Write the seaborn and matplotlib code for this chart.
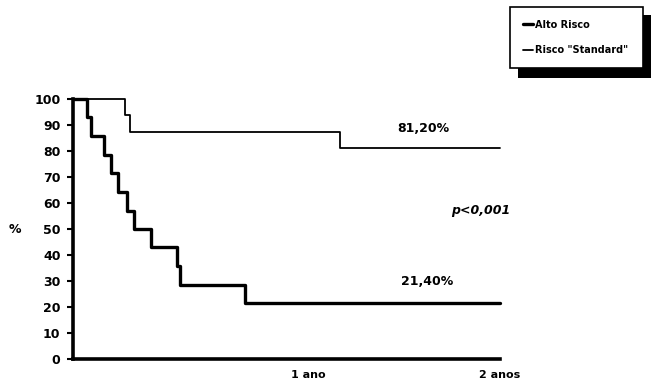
import matplotlib
matplotlib.use("Agg")
import matplotlib.pyplot as plt
from matplotlib.patches import Rectangle
import seaborn as sns
import pandas as pd

# Data (time in months, survival in %)
alto_t = [0, 0.79, 1.01, 1.74, 2.12, 2.53, 3.04, 3.43, 4.37, 5.83, 6.01, 9.67, 24]
alto_s = [100, 92.9, 85.7, 78.6, 71.4, 64.3, 57.1, 50.0, 42.9, 35.7, 28.6, 21.4, 21.4]
std_t = [0, 2.92, 3.20, 15.0, 24]
std_s = [100, 93.75, 87.5, 81.25, 81.25]
series_names = ["Alto Risco", 'Risco "Standard"']
y_ticks = [0, 10, 20, 30, 40, 50, 60, 70, 80, 90, 100]
x_tick_labels = ["1 ano", "2 anos"]
annotations = ["81,20%", "p<0,001", "21,40%"]

sns.set_style("white")
plt.rcParams["font.family"] = ["DejaVu Sans"]
plt.rcParams["text.color"] = "black"
plt.rcParams["xtick.color"] = "black"
plt.rcParams["ytick.color"] = "black"
plt.rcParams["xtick.labelcolor"] = "black"
plt.rcParams["ytick.labelcolor"] = "black"

df_alto = pd.DataFrame({"t": alto_t, "s": alto_s})
df_std = pd.DataFrame({"t": std_t, "s": std_s})

W, H = 651, 382
fig = plt.figure(figsize=(W / 100, H / 100), dpi=100)
ax = fig.add_axes([73 / W, 1 - 359 / H, (500 - 73) / W, (359 - 99) / H])

sns.lineplot(data=df_std, x="t", y="s", ax=ax, drawstyle="steps-post",
             color="black", linewidth=1.3, estimator=None, sort=False,
             label=series_names[1], clip_on=False)
sns.lineplot(data=df_alto, x="t", y="s", ax=ax, drawstyle="steps-post",
             color="black", linewidth=2.4, estimator=None, sort=False,
             label=series_names[0], clip_on=False)

ax.set_xlim(0, 24)
ax.set_ylim(0, 100)
ax.set_yticks(y_ticks)
ax.set_yticklabels([str(v) for v in y_ticks], fontsize=9, fontweight="bold", color="black")
ax.set_xticks([13.2, 24.0])
ax.set_xticklabels(x_tick_labels, fontsize=8, fontweight="bold", color="black")
ax.tick_params(axis="y", direction="out", length=4, width=1.5, pad=5, left=True, color="black")
ax.tick_params(axis="x", length=0, pad=8)
for sp in ["top", "right"]:
    ax.spines[sp].set_visible(False)
for sp in ["left", "bottom"]:
    ax.spines[sp].set_color("black")
    ax.spines[sp].set_linewidth(2.6)
ax.set_xlabel("")
ax.set_ylabel("")
fig.text(15 / W, 1 - 229 / H, "%", fontsize=9, fontweight="bold", ha="center", va="center", color="black")

ax.text(19.7, 88.8, annotations[0], fontsize=9, fontweight="bold", ha="center", va="center", color="black")
ax.text(22.9, 57.3, annotations[1], fontsize=9, fontweight="bold", style="italic", ha="center", va="center", color="black")
ax.text(19.9, 29.8, annotations[2], fontsize=9, fontweight="bold", ha="center", va="center", color="black")

# Legend with black drop shadow
handles, labels = ax.get_legend_handles_labels()
order = [labels.index(series_names[0]), labels.index(series_names[1])]
ax.get_legend().remove()
fig.patches.append(Rectangle((518 / W, 1 - 78 / H), (660 - 518) / W, (78 - 15) / H,
                             transform=fig.transFigure, facecolor="black", edgecolor="none", zorder=1))
leg = fig.legend([handles[i] for i in order], [labels[i] for i in order],
                 loc="upper left", bbox_to_anchor=(510 / W, 1 - 68 / H, 133 / W, 61 / H),
                 mode="expand", frameon=True, fancybox=False, framealpha=1,
                 edgecolor="black", prop={"weight": "bold", "size": 7},
                 handlelength=1.1, handletextpad=0.2, borderpad=1.3, labelspacing=1.6,
                 borderaxespad=0)
leg.get_frame().set_linewidth(1.2)
leg.set_zorder(5)

fig.savefig("out.png", dpi=100)
